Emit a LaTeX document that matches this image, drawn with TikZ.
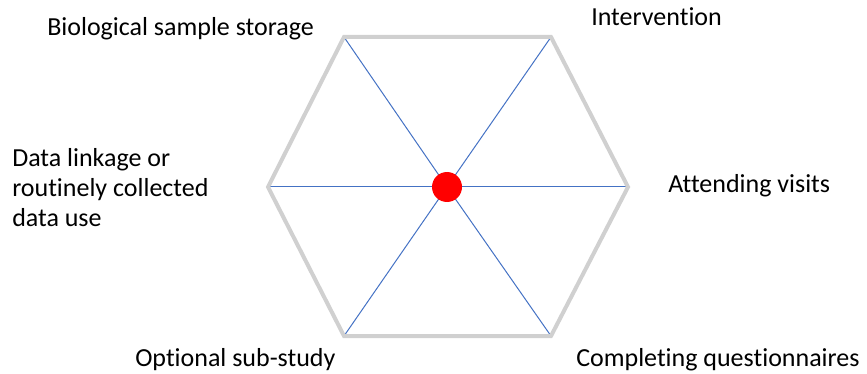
\documentclass[tikz,border=0pt]{standalone}
\usepackage{fontspec}
\setmainfont{Carlito}[Ligatures=NoCommon]
\usepackage{xcolor}
\usetikzlibrary{positioning}
\definecolor{hexgray}{RGB}{208,208,208}
\definecolor{spokeblue}{RGB}{68,114,196}

\begin{document}
\begin{tikzpicture}[
  x=0.75pt, y=-0.75pt,
  label/.style={inner sep=0pt, anchor=base west, align=left, font=\fontsize{19.5}{22.5}\selectfont},
  rim/.style={draw=hexgray, line width=3pt, line join=miter},
  spoke/.style={draw=spokeblue, line width=0.75pt},
  hub/.style={circle, fill=red, minimum size=22.5pt, inner sep=0pt}
]
  \useasboundingbox (0,0) rectangle (867,374);

  % hexagon corners
  \coordinate (tl) at (344,37);
  \coordinate (tr) at (551,37);
  \coordinate (mr) at (628,187);
  \coordinate (br) at (551,336);
  \coordinate (bl) at (344,336);
  \coordinate (ml) at (268,187);
  \coordinate (mid) at (447,187);

  \foreach \c in {tl,tr,mr,br,bl,ml}
    \draw[spoke] (\c) -- (mid);

  \node[hub] (ctr) at (mid) {};

  \draw[rim] (tl) -- (tr) -- (mr) -- (br) -- (bl) -- (ml) -- cycle;

  % labels
  \node[label] (bio) at (47,36) {Biological sample storage};
  \node[label] (int) at (591,26) {Intervention};
  \node[label] (att) at (668,193) {Attending visits};
  \node[label] (dat) at (12,226) {Data linkage or\\routinely collected\\data use};
  \node[label] (opt) at (135,366) {Optional sub-study};
  \node[label] (cmp) at (576,366) {Completing questionnaires};
\end{tikzpicture}
\end{document}
